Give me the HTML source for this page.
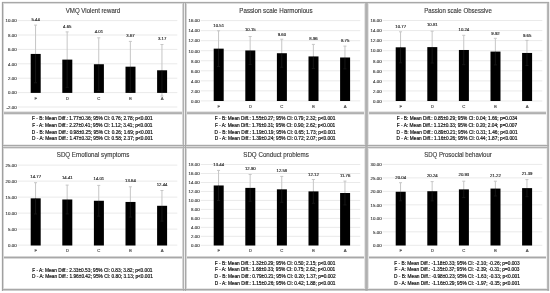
<!DOCTYPE html>
<html><head><meta charset="utf-8"><style>
html,body{margin:0;padding:0;background:#fff;}
body{width:550px;height:293px;position:relative;overflow:hidden;font-family:"Liberation Sans", sans-serif;filter:grayscale(1);}
body>div{position:absolute;box-sizing:content-box;}
</style></head><body>
<svg width="550" height="293" viewBox="0 0 550 293" style="position:absolute;left:0;top:0"><rect x="17.70" y="20.10" width="159.60" height="1" fill="#eaeaea"/><rect x="17.70" y="34.50" width="159.60" height="1" fill="#eaeaea"/><rect x="17.70" y="48.90" width="159.60" height="1" fill="#eaeaea"/><rect x="17.70" y="63.30" width="159.60" height="1" fill="#eaeaea"/><rect x="17.70" y="77.70" width="159.60" height="1" fill="#eaeaea"/><rect x="17.70" y="92.10" width="159.60" height="1" fill="#eaeaea"/><rect x="17.70" y="106.50" width="159.60" height="1" fill="#eaeaea"/><rect x="200.70" y="20.10" width="159.60" height="1" fill="#eaeaea"/><rect x="200.70" y="30.14" width="159.60" height="1" fill="#eaeaea"/><rect x="200.70" y="40.18" width="159.60" height="1" fill="#eaeaea"/><rect x="200.70" y="50.21" width="159.60" height="1" fill="#eaeaea"/><rect x="200.70" y="60.25" width="159.60" height="1" fill="#eaeaea"/><rect x="200.70" y="70.29" width="159.60" height="1" fill="#eaeaea"/><rect x="200.70" y="80.33" width="159.60" height="1" fill="#eaeaea"/><rect x="200.70" y="90.36" width="159.60" height="1" fill="#eaeaea"/><rect x="200.70" y="100.40" width="159.60" height="1" fill="#eaeaea"/><rect x="382.70" y="20.00" width="159.60" height="1" fill="#eaeaea"/><rect x="382.70" y="30.06" width="159.60" height="1" fill="#eaeaea"/><rect x="382.70" y="40.12" width="159.60" height="1" fill="#eaeaea"/><rect x="382.70" y="50.19" width="159.60" height="1" fill="#eaeaea"/><rect x="382.70" y="60.25" width="159.60" height="1" fill="#eaeaea"/><rect x="382.70" y="70.31" width="159.60" height="1" fill="#eaeaea"/><rect x="382.70" y="80.38" width="159.60" height="1" fill="#eaeaea"/><rect x="382.70" y="90.44" width="159.60" height="1" fill="#eaeaea"/><rect x="382.70" y="100.50" width="159.60" height="1" fill="#eaeaea"/><rect x="17.70" y="164.60" width="159.60" height="1" fill="#eaeaea"/><rect x="17.70" y="180.60" width="159.60" height="1" fill="#eaeaea"/><rect x="17.70" y="196.60" width="159.60" height="1" fill="#eaeaea"/><rect x="17.70" y="212.60" width="159.60" height="1" fill="#eaeaea"/><rect x="17.70" y="228.60" width="159.60" height="1" fill="#eaeaea"/><rect x="17.70" y="244.60" width="159.60" height="1" fill="#eaeaea"/><rect x="200.70" y="164.00" width="159.60" height="1" fill="#eaeaea"/><rect x="200.70" y="172.98" width="159.60" height="1" fill="#eaeaea"/><rect x="200.70" y="181.96" width="159.60" height="1" fill="#eaeaea"/><rect x="200.70" y="190.93" width="159.60" height="1" fill="#eaeaea"/><rect x="200.70" y="199.91" width="159.60" height="1" fill="#eaeaea"/><rect x="200.70" y="208.89" width="159.60" height="1" fill="#eaeaea"/><rect x="200.70" y="217.87" width="159.60" height="1" fill="#eaeaea"/><rect x="200.70" y="226.84" width="159.60" height="1" fill="#eaeaea"/><rect x="200.70" y="235.82" width="159.60" height="1" fill="#eaeaea"/><rect x="200.70" y="244.80" width="159.60" height="1" fill="#eaeaea"/><rect x="382.70" y="163.90" width="159.60" height="1" fill="#eaeaea"/><rect x="382.70" y="177.38" width="159.60" height="1" fill="#eaeaea"/><rect x="382.70" y="190.87" width="159.60" height="1" fill="#eaeaea"/><rect x="382.70" y="204.35" width="159.60" height="1" fill="#eaeaea"/><rect x="382.70" y="217.83" width="159.60" height="1" fill="#eaeaea"/><rect x="382.70" y="231.32" width="159.60" height="1" fill="#eaeaea"/><rect x="382.70" y="244.80" width="159.60" height="1" fill="#eaeaea"/><rect x="30.70" y="53.93" width="10.0" height="38.97" fill="#000"/><rect x="62.30" y="59.62" width="10.0" height="33.28" fill="#000"/><rect x="93.90" y="64.23" width="10.0" height="28.67" fill="#000"/><rect x="125.50" y="66.68" width="10.0" height="26.22" fill="#000"/><rect x="157.10" y="70.28" width="10.0" height="22.62" fill="#000"/><rect x="213.70" y="48.65" width="10.0" height="52.35" fill="#000"/><rect x="245.30" y="50.46" width="10.0" height="50.54" fill="#000"/><rect x="276.90" y="53.22" width="10.0" height="47.78" fill="#000"/><rect x="308.50" y="56.43" width="10.0" height="44.57" fill="#000"/><rect x="340.10" y="57.49" width="10.0" height="43.51" fill="#000"/><rect x="395.70" y="47.31" width="10.0" height="53.69" fill="#000"/><rect x="427.30" y="47.11" width="10.0" height="53.89" fill="#000"/><rect x="458.90" y="49.98" width="10.0" height="51.02" fill="#000"/><rect x="490.50" y="51.59" width="10.0" height="49.41" fill="#000"/><rect x="522.10" y="52.95" width="10.0" height="48.05" fill="#000"/><rect x="30.70" y="198.34" width="10.0" height="47.16" fill="#000"/><rect x="62.30" y="199.49" width="10.0" height="46.01" fill="#000"/><rect x="93.90" y="200.77" width="10.0" height="44.73" fill="#000"/><rect x="125.50" y="201.95" width="10.0" height="43.55" fill="#000"/><rect x="157.10" y="205.79" width="10.0" height="39.71" fill="#000"/><rect x="213.70" y="185.47" width="10.0" height="60.03" fill="#000"/><rect x="245.30" y="187.89" width="10.0" height="57.61" fill="#000"/><rect x="276.90" y="189.33" width="10.0" height="56.17" fill="#000"/><rect x="308.50" y="191.39" width="10.0" height="54.11" fill="#000"/><rect x="340.10" y="193.01" width="10.0" height="52.49" fill="#000"/><rect x="395.70" y="191.76" width="10.0" height="53.74" fill="#000"/><rect x="427.30" y="191.22" width="10.0" height="54.28" fill="#000"/><rect x="458.90" y="189.36" width="10.0" height="56.14" fill="#000"/><rect x="490.50" y="188.58" width="10.0" height="56.92" fill="#000"/><rect x="522.10" y="188.12" width="10.0" height="57.38" fill="#000"/><rect x="35.05" y="25.10" width="1" height="28.83" fill="#c6c6c6"/><rect x="34.05" y="24.60" width="3" height="1" fill="#c6c6c6"/><rect x="35.05" y="53.93" width="1" height="28.83" fill="#151515"/><rect x="34.05" y="82.26" width="3" height="1" fill="#151515"/><rect x="66.65" y="31.90" width="1" height="27.72" fill="#c6c6c6"/><rect x="65.65" y="31.40" width="3" height="1" fill="#c6c6c6"/><rect x="66.65" y="59.62" width="1" height="27.72" fill="#151515"/><rect x="65.65" y="86.84" width="3" height="1" fill="#151515"/><rect x="98.25" y="37.80" width="1" height="26.43" fill="#c6c6c6"/><rect x="97.25" y="37.30" width="3" height="1" fill="#c6c6c6"/><rect x="98.25" y="64.23" width="1" height="26.43" fill="#151515"/><rect x="97.25" y="90.16" width="3" height="1" fill="#151515"/><rect x="129.85" y="41.40" width="1" height="25.28" fill="#c6c6c6"/><rect x="128.85" y="40.90" width="3" height="1" fill="#c6c6c6"/><rect x="129.85" y="66.68" width="1" height="25.28" fill="#151515"/><rect x="128.85" y="91.45" width="3" height="1" fill="#151515"/><rect x="161.45" y="44.50" width="1" height="25.78" fill="#c6c6c6"/><rect x="160.45" y="44.00" width="3" height="1" fill="#c6c6c6"/><rect x="161.45" y="70.28" width="1" height="22.62" fill="#151515"/><rect x="161.45" y="92.90" width="1" height="3.15" fill="#c6c6c6"/><rect x="160.45" y="95.55" width="3" height="1" fill="#c6c6c6"/><rect x="218.05" y="30.80" width="1" height="17.85" fill="#c6c6c6"/><rect x="217.05" y="30.30" width="3" height="1" fill="#c6c6c6"/><rect x="218.05" y="48.65" width="1" height="17.85" fill="#151515"/><rect x="217.05" y="66.01" width="3" height="1" fill="#151515"/><rect x="249.65" y="36.50" width="1" height="13.96" fill="#c6c6c6"/><rect x="248.65" y="36.00" width="3" height="1" fill="#c6c6c6"/><rect x="249.65" y="50.46" width="1" height="13.96" fill="#151515"/><rect x="248.65" y="63.92" width="3" height="1" fill="#151515"/><rect x="281.25" y="39.20" width="1" height="14.02" fill="#c6c6c6"/><rect x="280.25" y="38.70" width="3" height="1" fill="#c6c6c6"/><rect x="281.25" y="53.22" width="1" height="14.02" fill="#151515"/><rect x="280.25" y="66.74" width="3" height="1" fill="#151515"/><rect x="312.85" y="44.40" width="1" height="12.03" fill="#c6c6c6"/><rect x="311.85" y="43.90" width="3" height="1" fill="#c6c6c6"/><rect x="312.85" y="56.43" width="1" height="12.03" fill="#151515"/><rect x="311.85" y="67.96" width="3" height="1" fill="#151515"/><rect x="344.45" y="46.10" width="1" height="11.39" fill="#c6c6c6"/><rect x="343.45" y="45.60" width="3" height="1" fill="#c6c6c6"/><rect x="344.45" y="57.49" width="1" height="11.39" fill="#151515"/><rect x="343.45" y="68.37" width="3" height="1" fill="#151515"/><rect x="400.05" y="31.80" width="1" height="15.51" fill="#c6c6c6"/><rect x="399.05" y="31.30" width="3" height="1" fill="#c6c6c6"/><rect x="400.05" y="47.31" width="1" height="15.51" fill="#151515"/><rect x="399.05" y="62.33" width="3" height="1" fill="#151515"/><rect x="431.65" y="31.20" width="1" height="15.91" fill="#c6c6c6"/><rect x="430.65" y="30.70" width="3" height="1" fill="#c6c6c6"/><rect x="431.65" y="47.11" width="1" height="15.91" fill="#151515"/><rect x="430.65" y="62.52" width="3" height="1" fill="#151515"/><rect x="463.25" y="35.30" width="1" height="14.68" fill="#c6c6c6"/><rect x="462.25" y="34.80" width="3" height="1" fill="#c6c6c6"/><rect x="463.25" y="49.98" width="1" height="14.68" fill="#151515"/><rect x="462.25" y="64.16" width="3" height="1" fill="#151515"/><rect x="494.85" y="38.30" width="1" height="13.29" fill="#c6c6c6"/><rect x="493.85" y="37.80" width="3" height="1" fill="#c6c6c6"/><rect x="494.85" y="51.59" width="1" height="13.29" fill="#151515"/><rect x="493.85" y="64.38" width="3" height="1" fill="#151515"/><rect x="526.45" y="40.40" width="1" height="12.55" fill="#c6c6c6"/><rect x="525.45" y="39.90" width="3" height="1" fill="#c6c6c6"/><rect x="526.45" y="52.95" width="1" height="12.55" fill="#151515"/><rect x="525.45" y="65.00" width="3" height="1" fill="#151515"/><rect x="35.05" y="182.70" width="1" height="15.64" fill="#c6c6c6"/><rect x="34.05" y="182.20" width="3" height="1" fill="#c6c6c6"/><rect x="35.05" y="198.34" width="1" height="15.64" fill="#151515"/><rect x="34.05" y="213.47" width="3" height="1" fill="#151515"/><rect x="66.65" y="185.10" width="1" height="14.39" fill="#c6c6c6"/><rect x="65.65" y="184.60" width="3" height="1" fill="#c6c6c6"/><rect x="66.65" y="199.49" width="1" height="14.39" fill="#151515"/><rect x="65.65" y="213.38" width="3" height="1" fill="#151515"/><rect x="98.25" y="185.40" width="1" height="15.37" fill="#c6c6c6"/><rect x="97.25" y="184.90" width="3" height="1" fill="#c6c6c6"/><rect x="98.25" y="200.77" width="1" height="15.37" fill="#151515"/><rect x="97.25" y="215.64" width="3" height="1" fill="#151515"/><rect x="129.85" y="186.80" width="1" height="15.15" fill="#c6c6c6"/><rect x="128.85" y="186.30" width="3" height="1" fill="#c6c6c6"/><rect x="129.85" y="201.95" width="1" height="15.15" fill="#151515"/><rect x="128.85" y="216.60" width="3" height="1" fill="#151515"/><rect x="161.45" y="190.50" width="1" height="15.29" fill="#c6c6c6"/><rect x="160.45" y="190.00" width="3" height="1" fill="#c6c6c6"/><rect x="161.45" y="205.79" width="1" height="15.29" fill="#151515"/><rect x="160.45" y="220.58" width="3" height="1" fill="#151515"/><rect x="218.05" y="170.40" width="1" height="15.07" fill="#c6c6c6"/><rect x="217.05" y="169.90" width="3" height="1" fill="#c6c6c6"/><rect x="218.05" y="185.47" width="1" height="15.07" fill="#151515"/><rect x="217.05" y="200.04" width="3" height="1" fill="#151515"/><rect x="249.65" y="174.50" width="1" height="13.39" fill="#c6c6c6"/><rect x="248.65" y="174.00" width="3" height="1" fill="#c6c6c6"/><rect x="249.65" y="187.89" width="1" height="13.39" fill="#151515"/><rect x="248.65" y="200.79" width="3" height="1" fill="#151515"/><rect x="281.25" y="176.40" width="1" height="12.93" fill="#c6c6c6"/><rect x="280.25" y="175.90" width="3" height="1" fill="#c6c6c6"/><rect x="281.25" y="189.33" width="1" height="12.93" fill="#151515"/><rect x="280.25" y="201.76" width="3" height="1" fill="#151515"/><rect x="312.85" y="179.50" width="1" height="11.89" fill="#c6c6c6"/><rect x="311.85" y="179.00" width="3" height="1" fill="#c6c6c6"/><rect x="312.85" y="191.39" width="1" height="11.89" fill="#151515"/><rect x="311.85" y="202.79" width="3" height="1" fill="#151515"/><rect x="344.45" y="181.10" width="1" height="11.91" fill="#c6c6c6"/><rect x="343.45" y="180.60" width="3" height="1" fill="#c6c6c6"/><rect x="344.45" y="193.01" width="1" height="11.91" fill="#151515"/><rect x="343.45" y="204.42" width="3" height="1" fill="#151515"/><rect x="400.05" y="182.70" width="1" height="9.06" fill="#c6c6c6"/><rect x="399.05" y="182.20" width="3" height="1" fill="#c6c6c6"/><rect x="400.05" y="191.76" width="1" height="9.06" fill="#151515"/><rect x="399.05" y="200.32" width="3" height="1" fill="#151515"/><rect x="431.65" y="181.60" width="1" height="9.62" fill="#c6c6c6"/><rect x="430.65" y="181.10" width="3" height="1" fill="#c6c6c6"/><rect x="431.65" y="191.22" width="1" height="9.62" fill="#151515"/><rect x="430.65" y="200.34" width="3" height="1" fill="#151515"/><rect x="463.25" y="181.20" width="1" height="8.16" fill="#c6c6c6"/><rect x="462.25" y="180.70" width="3" height="1" fill="#c6c6c6"/><rect x="463.25" y="189.36" width="1" height="8.16" fill="#151515"/><rect x="462.25" y="197.02" width="3" height="1" fill="#151515"/><rect x="494.85" y="181.20" width="1" height="7.38" fill="#c6c6c6"/><rect x="493.85" y="180.70" width="3" height="1" fill="#c6c6c6"/><rect x="494.85" y="188.58" width="1" height="7.38" fill="#151515"/><rect x="493.85" y="195.45" width="3" height="1" fill="#151515"/><rect x="526.45" y="179.60" width="1" height="8.52" fill="#c6c6c6"/><rect x="525.45" y="179.10" width="3" height="1" fill="#c6c6c6"/><rect x="526.45" y="188.12" width="1" height="8.52" fill="#151515"/><rect x="525.45" y="196.14" width="3" height="1" fill="#151515"/></svg>
<div style="left:2px;top:111px;width:182px;height:1px;background:#e6e6e6"></div>
<div style="left:2px;top:112px;width:182px;height:1px;background:#b8b8b8"></div>
<div style="left:2px;top:113px;width:182px;height:1px;background:#b0b0b0"></div>
<div style="left:2px;top:114px;width:182px;height:1px;background:#e6e6e6"></div>
<div style="left:33.0px;top:5.5px;width:120px;height:10px;line-height:10px;text-align:center;font-size:6.4px;color:#363636;-webkit-text-stroke:0.12px #363636;transform:scaleX(0.9554)">VMQ Violent reward</div>
<div style="left:2px;top:17.400000000000002px;width:14.6px;height:8px;line-height:8px;text-align:right;font-size:4.4px;color:#404040;-webkit-text-stroke:0.15px #404040">10.00</div>
<div style="left:2px;top:31.8px;width:14.6px;height:8px;line-height:8px;text-align:right;font-size:4.4px;color:#404040;-webkit-text-stroke:0.15px #404040">8.00</div>
<div style="left:2px;top:46.2px;width:14.6px;height:8px;line-height:8px;text-align:right;font-size:4.4px;color:#404040;-webkit-text-stroke:0.15px #404040">6.00</div>
<div style="left:2px;top:60.6px;width:14.6px;height:8px;line-height:8px;text-align:right;font-size:4.4px;color:#404040;-webkit-text-stroke:0.15px #404040">4.00</div>
<div style="left:2px;top:75.0px;width:14.6px;height:8px;line-height:8px;text-align:right;font-size:4.4px;color:#404040;-webkit-text-stroke:0.15px #404040">2.00</div>
<div style="left:2px;top:89.39999999999999px;width:14.6px;height:8px;line-height:8px;text-align:right;font-size:4.4px;color:#404040;-webkit-text-stroke:0.15px #404040">0.00</div>
<div style="left:2px;top:103.8px;width:14.6px;height:8px;line-height:8px;text-align:right;font-size:4.4px;color:#404040;-webkit-text-stroke:0.15px #404040">-2.00</div>
<div style="left:20.700000000000003px;top:16.0px;width:30px;height:8px;line-height:8px;text-align:center;font-size:4.3px;color:#262626;-webkit-text-stroke:0.15px #262626">5.44</div>
<div style="left:25.700000000000003px;top:94.7px;width:20px;height:8px;line-height:8px;text-align:center;font-size:4.3px;color:#404040;-webkit-text-stroke:0.12px #404040">F</div>
<div style="left:52.3px;top:22.6px;width:30px;height:8px;line-height:8px;text-align:center;font-size:4.3px;color:#262626;-webkit-text-stroke:0.15px #262626">4.65</div>
<div style="left:57.3px;top:94.7px;width:20px;height:8px;line-height:8px;text-align:center;font-size:4.3px;color:#404040;-webkit-text-stroke:0.12px #404040">D</div>
<div style="left:83.9px;top:27.7px;width:30px;height:8px;line-height:8px;text-align:center;font-size:4.3px;color:#262626;-webkit-text-stroke:0.15px #262626">4.01</div>
<div style="left:88.9px;top:94.7px;width:20px;height:8px;line-height:8px;text-align:center;font-size:4.3px;color:#404040;-webkit-text-stroke:0.12px #404040">C</div>
<div style="left:115.5px;top:32.1px;width:30px;height:8px;line-height:8px;text-align:center;font-size:4.3px;color:#262626;-webkit-text-stroke:0.15px #262626">3.67</div>
<div style="left:120.5px;top:94.7px;width:20px;height:8px;line-height:8px;text-align:center;font-size:4.3px;color:#404040;-webkit-text-stroke:0.12px #404040">B</div>
<div style="left:147.1px;top:35.4px;width:30px;height:8px;line-height:8px;text-align:center;font-size:4.3px;color:#262626;-webkit-text-stroke:0.15px #262626">3.17</div>
<div style="left:152.1px;top:94.7px;width:20px;height:8px;line-height:8px;text-align:center;font-size:4.3px;color:#404040;-webkit-text-stroke:0.12px #404040">A</div>
<div style="left:1.4px;top:116.3px;width:182px;height:6.6px;line-height:6.6px;text-align:center;font-size:4.78px;color:#111111;font-weight:normal;-webkit-text-stroke:0.18px #111111;white-space:nowrap">F - B: Mean Diff.: 1.77±0.36; 95% CI: 0.76; 2.78; p<0.001</div>
<div style="left:1.4px;top:122.89999999999999px;width:182px;height:6.6px;line-height:6.6px;text-align:center;font-size:4.78px;color:#111111;font-weight:normal;-webkit-text-stroke:0.18px #111111;white-space:nowrap">F - A: Mean Diff.: 2.27±0.41; 95% CI: 1.12; 3.41; p<0.001</div>
<div style="left:1.4px;top:129.5px;width:182px;height:6.6px;line-height:6.6px;text-align:center;font-size:4.78px;color:#111111;font-weight:normal;-webkit-text-stroke:0.18px #111111;white-space:nowrap">D - B: Mean Diff.: 0.98±0.25; 95% CI: 0.26; 1.69; p<0.001</div>
<div style="left:1.4px;top:136.1px;width:182px;height:6.6px;line-height:6.6px;text-align:center;font-size:4.78px;color:#111111;font-weight:normal;-webkit-text-stroke:0.18px #111111;white-space:nowrap">D - A: Mean Diff.: 1.47±0.32; 95% CI: 0.58; 2.37; p<0.001</div>
<div style="left:185px;top:111px;width:182px;height:1px;background:#e6e6e6"></div>
<div style="left:185px;top:112px;width:182px;height:1px;background:#b8b8b8"></div>
<div style="left:185px;top:113px;width:182px;height:1px;background:#b0b0b0"></div>
<div style="left:185px;top:114px;width:182px;height:1px;background:#e6e6e6"></div>
<div style="left:216.0px;top:5.5px;width:120px;height:10px;line-height:10px;text-align:center;font-size:6.4px;color:#363636;-webkit-text-stroke:0.12px #363636;transform:scaleX(0.9687)">Passion scale Harmonious</div>
<div style="left:185px;top:17.400000000000002px;width:14.6px;height:8px;line-height:8px;text-align:right;font-size:4.4px;color:#404040;-webkit-text-stroke:0.15px #404040">16.00</div>
<div style="left:185px;top:27.437500000000004px;width:14.6px;height:8px;line-height:8px;text-align:right;font-size:4.4px;color:#404040;-webkit-text-stroke:0.15px #404040">14.00</div>
<div style="left:185px;top:37.475px;width:14.6px;height:8px;line-height:8px;text-align:right;font-size:4.4px;color:#404040;-webkit-text-stroke:0.15px #404040">12.00</div>
<div style="left:185px;top:47.5125px;width:14.6px;height:8px;line-height:8px;text-align:right;font-size:4.4px;color:#404040;-webkit-text-stroke:0.15px #404040">10.00</div>
<div style="left:185px;top:57.550000000000004px;width:14.6px;height:8px;line-height:8px;text-align:right;font-size:4.4px;color:#404040;-webkit-text-stroke:0.15px #404040">8.00</div>
<div style="left:185px;top:67.5875px;width:14.6px;height:8px;line-height:8px;text-align:right;font-size:4.4px;color:#404040;-webkit-text-stroke:0.15px #404040">6.00</div>
<div style="left:185px;top:77.62500000000001px;width:14.6px;height:8px;line-height:8px;text-align:right;font-size:4.4px;color:#404040;-webkit-text-stroke:0.15px #404040">4.00</div>
<div style="left:185px;top:87.66250000000001px;width:14.6px;height:8px;line-height:8px;text-align:right;font-size:4.4px;color:#404040;-webkit-text-stroke:0.15px #404040">2.00</div>
<div style="left:185px;top:97.7px;width:14.6px;height:8px;line-height:8px;text-align:right;font-size:4.4px;color:#404040;-webkit-text-stroke:0.15px #404040">0.00</div>
<div style="left:203.7px;top:21.8px;width:30px;height:8px;line-height:8px;text-align:center;font-size:4.3px;color:#262626;-webkit-text-stroke:0.15px #262626">10.51</div>
<div style="left:208.7px;top:103.3px;width:20px;height:8px;line-height:8px;text-align:center;font-size:4.3px;color:#404040;-webkit-text-stroke:0.12px #404040">F</div>
<div style="left:235.3px;top:26.3px;width:30px;height:8px;line-height:8px;text-align:center;font-size:4.3px;color:#262626;-webkit-text-stroke:0.15px #262626">10.15</div>
<div style="left:240.3px;top:103.3px;width:20px;height:8px;line-height:8px;text-align:center;font-size:4.3px;color:#404040;-webkit-text-stroke:0.12px #404040">D</div>
<div style="left:266.9px;top:30.5px;width:30px;height:8px;line-height:8px;text-align:center;font-size:4.3px;color:#262626;-webkit-text-stroke:0.15px #262626">9.60</div>
<div style="left:271.9px;top:103.3px;width:20px;height:8px;line-height:8px;text-align:center;font-size:4.3px;color:#404040;-webkit-text-stroke:0.12px #404040">C</div>
<div style="left:298.5px;top:35.3px;width:30px;height:8px;line-height:8px;text-align:center;font-size:4.3px;color:#262626;-webkit-text-stroke:0.15px #262626">8.96</div>
<div style="left:303.5px;top:103.3px;width:20px;height:8px;line-height:8px;text-align:center;font-size:4.3px;color:#404040;-webkit-text-stroke:0.12px #404040">B</div>
<div style="left:330.1px;top:37.0px;width:30px;height:8px;line-height:8px;text-align:center;font-size:4.3px;color:#262626;-webkit-text-stroke:0.15px #262626">8.75</div>
<div style="left:335.1px;top:103.3px;width:20px;height:8px;line-height:8px;text-align:center;font-size:4.3px;color:#404040;-webkit-text-stroke:0.12px #404040">A</div>
<div style="left:184.1px;top:116.3px;width:182px;height:6.6px;line-height:6.6px;text-align:center;font-size:4.78px;color:#111111;font-weight:normal;-webkit-text-stroke:0.18px #111111;white-space:nowrap">F - B: Mean Diff.: 1.55±0.27; 95% CI: 0.79; 2.32; p<0.001</div>
<div style="left:184.1px;top:122.89999999999999px;width:182px;height:6.6px;line-height:6.6px;text-align:center;font-size:4.78px;color:#111111;font-weight:normal;-webkit-text-stroke:0.18px #111111;white-space:nowrap">F - A: Mean Diff.: 1.76±0.31; 95% CI: 0.90; 2.62; p<0.001</div>
<div style="left:184.1px;top:129.5px;width:182px;height:6.6px;line-height:6.6px;text-align:center;font-size:4.78px;color:#111111;font-weight:normal;-webkit-text-stroke:0.18px #111111;white-space:nowrap">D - B: Mean Diff.: 1.19±0.19; 95% CI: 0.65; 1.73; p<0.001</div>
<div style="left:184.1px;top:136.1px;width:182px;height:6.6px;line-height:6.6px;text-align:center;font-size:4.78px;color:#111111;font-weight:normal;-webkit-text-stroke:0.18px #111111;white-space:nowrap">D - A: Mean Diff.: 1.39±0.24; 95% CI: 0.72; 2.07; p<0.001</div>
<div style="left:367px;top:111px;width:181px;height:1px;background:#e6e6e6"></div>
<div style="left:367px;top:112px;width:181px;height:1px;background:#b8b8b8"></div>
<div style="left:367px;top:113px;width:181px;height:1px;background:#b0b0b0"></div>
<div style="left:367px;top:114px;width:181px;height:1px;background:#e6e6e6"></div>
<div style="left:397.5px;top:5.5px;width:120px;height:10px;line-height:10px;text-align:center;font-size:6.4px;color:#363636;-webkit-text-stroke:0.12px #363636;transform:scaleX(0.9516)">Passion scale Obsessive</div>
<div style="left:367px;top:17.3px;width:14.6px;height:8px;line-height:8px;text-align:right;font-size:4.4px;color:#404040;-webkit-text-stroke:0.15px #404040">16.00</div>
<div style="left:367px;top:27.3625px;width:14.6px;height:8px;line-height:8px;text-align:right;font-size:4.4px;color:#404040;-webkit-text-stroke:0.15px #404040">14.00</div>
<div style="left:367px;top:37.425px;width:14.6px;height:8px;line-height:8px;text-align:right;font-size:4.4px;color:#404040;-webkit-text-stroke:0.15px #404040">12.00</div>
<div style="left:367px;top:47.4875px;width:14.6px;height:8px;line-height:8px;text-align:right;font-size:4.4px;color:#404040;-webkit-text-stroke:0.15px #404040">10.00</div>
<div style="left:367px;top:57.55px;width:14.6px;height:8px;line-height:8px;text-align:right;font-size:4.4px;color:#404040;-webkit-text-stroke:0.15px #404040">8.00</div>
<div style="left:367px;top:67.6125px;width:14.6px;height:8px;line-height:8px;text-align:right;font-size:4.4px;color:#404040;-webkit-text-stroke:0.15px #404040">6.00</div>
<div style="left:367px;top:77.675px;width:14.6px;height:8px;line-height:8px;text-align:right;font-size:4.4px;color:#404040;-webkit-text-stroke:0.15px #404040">4.00</div>
<div style="left:367px;top:87.7375px;width:14.6px;height:8px;line-height:8px;text-align:right;font-size:4.4px;color:#404040;-webkit-text-stroke:0.15px #404040">2.00</div>
<div style="left:367px;top:97.8px;width:14.6px;height:8px;line-height:8px;text-align:right;font-size:4.4px;color:#404040;-webkit-text-stroke:0.15px #404040">0.00</div>
<div style="left:385.7px;top:23.2px;width:30px;height:8px;line-height:8px;text-align:center;font-size:4.3px;color:#262626;-webkit-text-stroke:0.15px #262626">10.77</div>
<div style="left:390.7px;top:103.3px;width:20px;height:8px;line-height:8px;text-align:center;font-size:4.3px;color:#404040;-webkit-text-stroke:0.12px #404040">F</div>
<div style="left:417.3px;top:21.3px;width:30px;height:8px;line-height:8px;text-align:center;font-size:4.3px;color:#262626;-webkit-text-stroke:0.15px #262626">10.81</div>
<div style="left:422.3px;top:103.3px;width:20px;height:8px;line-height:8px;text-align:center;font-size:4.3px;color:#404040;-webkit-text-stroke:0.12px #404040">D</div>
<div style="left:448.9px;top:25.8px;width:30px;height:8px;line-height:8px;text-align:center;font-size:4.3px;color:#262626;-webkit-text-stroke:0.15px #262626">10.24</div>
<div style="left:453.9px;top:103.3px;width:20px;height:8px;line-height:8px;text-align:center;font-size:4.3px;color:#404040;-webkit-text-stroke:0.12px #404040">C</div>
<div style="left:480.5px;top:29.5px;width:30px;height:8px;line-height:8px;text-align:center;font-size:4.3px;color:#262626;-webkit-text-stroke:0.15px #262626">9.92</div>
<div style="left:485.5px;top:103.3px;width:20px;height:8px;line-height:8px;text-align:center;font-size:4.3px;color:#404040;-webkit-text-stroke:0.12px #404040">B</div>
<div style="left:512.1px;top:31.6px;width:30px;height:8px;line-height:8px;text-align:center;font-size:4.3px;color:#262626;-webkit-text-stroke:0.15px #262626">9.65</div>
<div style="left:517.1px;top:103.3px;width:20px;height:8px;line-height:8px;text-align:center;font-size:4.3px;color:#404040;-webkit-text-stroke:0.12px #404040">A</div>
<div style="left:366.5px;top:116.3px;width:181px;height:6.6px;line-height:6.6px;text-align:center;font-size:4.78px;color:#111111;font-weight:normal;-webkit-text-stroke:0.18px #111111;white-space:nowrap">F - B: Mean Diff.: 0.85±0.29; 95% CI: 0.04; 1.66; p=0.034</div>
<div style="left:366.5px;top:122.89999999999999px;width:181px;height:6.6px;line-height:6.6px;text-align:center;font-size:4.78px;color:#111111;font-weight:normal;-webkit-text-stroke:0.18px #111111;white-space:nowrap">F - A: Mean Diff.: 1.12±0.33; 95% CI: 0.20; 2.04; p=0.007</div>
<div style="left:366.5px;top:129.5px;width:181px;height:6.6px;line-height:6.6px;text-align:center;font-size:4.78px;color:#111111;font-weight:normal;-webkit-text-stroke:0.18px #111111;white-space:nowrap">D - B: Mean Diff.: 0.89±0.21; 95% CI: 0.31; 1.46; p<0.001</div>
<div style="left:366.5px;top:136.1px;width:181px;height:6.6px;line-height:6.6px;text-align:center;font-size:4.78px;color:#111111;font-weight:normal;-webkit-text-stroke:0.18px #111111;white-space:nowrap">D - A: Mean Diff.: 1.16±0.26; 95% CI: 0.44; 1.87; p<0.001</div>
<div style="left:2px;top:256px;width:182px;height:1px;background:#d4d4d4"></div>
<div style="left:2px;top:257px;width:182px;height:1px;background:#a8a8a8"></div>
<div style="left:2px;top:258px;width:182px;height:1px;background:#d8d8d8"></div>
<div style="left:33.0px;top:149.9px;width:120px;height:10px;line-height:10px;text-align:center;font-size:6.4px;color:#363636;-webkit-text-stroke:0.12px #363636;transform:scaleX(0.9674)">SDQ Emotional symptoms</div>
<div style="left:2px;top:161.9px;width:14.6px;height:8px;line-height:8px;text-align:right;font-size:4.4px;color:#404040;-webkit-text-stroke:0.15px #404040">25.00</div>
<div style="left:2px;top:177.9px;width:14.6px;height:8px;line-height:8px;text-align:right;font-size:4.4px;color:#404040;-webkit-text-stroke:0.15px #404040">20.00</div>
<div style="left:2px;top:193.9px;width:14.6px;height:8px;line-height:8px;text-align:right;font-size:4.4px;color:#404040;-webkit-text-stroke:0.15px #404040">15.00</div>
<div style="left:2px;top:209.9px;width:14.6px;height:8px;line-height:8px;text-align:right;font-size:4.4px;color:#404040;-webkit-text-stroke:0.15px #404040">10.00</div>
<div style="left:2px;top:225.9px;width:14.6px;height:8px;line-height:8px;text-align:right;font-size:4.4px;color:#404040;-webkit-text-stroke:0.15px #404040">5.00</div>
<div style="left:2px;top:241.9px;width:14.6px;height:8px;line-height:8px;text-align:right;font-size:4.4px;color:#404040;-webkit-text-stroke:0.15px #404040">0.00</div>
<div style="left:20.700000000000003px;top:172.8px;width:30px;height:8px;line-height:8px;text-align:center;font-size:4.3px;color:#262626;-webkit-text-stroke:0.15px #262626">14.77</div>
<div style="left:25.700000000000003px;top:247.1px;width:20px;height:8px;line-height:8px;text-align:center;font-size:4.3px;color:#404040;-webkit-text-stroke:0.12px #404040">F</div>
<div style="left:52.3px;top:174.3px;width:30px;height:8px;line-height:8px;text-align:center;font-size:4.3px;color:#262626;-webkit-text-stroke:0.15px #262626">14.41</div>
<div style="left:57.3px;top:247.1px;width:20px;height:8px;line-height:8px;text-align:center;font-size:4.3px;color:#404040;-webkit-text-stroke:0.12px #404040">D</div>
<div style="left:83.9px;top:174.9px;width:30px;height:8px;line-height:8px;text-align:center;font-size:4.3px;color:#262626;-webkit-text-stroke:0.15px #262626">14.01</div>
<div style="left:88.9px;top:247.1px;width:20px;height:8px;line-height:8px;text-align:center;font-size:4.3px;color:#404040;-webkit-text-stroke:0.12px #404040">C</div>
<div style="left:115.5px;top:177.4px;width:30px;height:8px;line-height:8px;text-align:center;font-size:4.3px;color:#262626;-webkit-text-stroke:0.15px #262626">13.64</div>
<div style="left:120.5px;top:247.1px;width:20px;height:8px;line-height:8px;text-align:center;font-size:4.3px;color:#404040;-webkit-text-stroke:0.12px #404040">B</div>
<div style="left:147.1px;top:181.1px;width:30px;height:8px;line-height:8px;text-align:center;font-size:4.3px;color:#262626;-webkit-text-stroke:0.15px #262626">12.44</div>
<div style="left:152.1px;top:247.1px;width:20px;height:8px;line-height:8px;text-align:center;font-size:4.3px;color:#404040;-webkit-text-stroke:0.12px #404040">A</div>
<div style="left:1.4px;top:267.69999999999993px;width:182px;height:6.6px;line-height:6.6px;text-align:center;font-size:4.78px;color:#111111;font-weight:normal;-webkit-text-stroke:0.18px #111111;white-space:nowrap">F - A: Mean Diff.: 2.33±0.53; 95% CI: 0.83; 3.82; p<0.001</div>
<div style="left:1.4px;top:274.29999999999995px;width:182px;height:6.6px;line-height:6.6px;text-align:center;font-size:4.78px;color:#111111;font-weight:normal;-webkit-text-stroke:0.18px #111111;white-space:nowrap">D - A: Mean Diff.: 1.96±0.42; 95% CI: 0.80; 3.13; p<0.001</div>
<div style="left:185px;top:256px;width:182px;height:1px;background:#d4d4d4"></div>
<div style="left:185px;top:257px;width:182px;height:1px;background:#a8a8a8"></div>
<div style="left:185px;top:258px;width:182px;height:1px;background:#d8d8d8"></div>
<div style="left:216.0px;top:149.9px;width:120px;height:10px;line-height:10px;text-align:center;font-size:6.4px;color:#363636;-webkit-text-stroke:0.12px #363636;transform:scaleX(0.9706)">SDQ Conduct problems</div>
<div style="left:185px;top:161.3px;width:14.6px;height:8px;line-height:8px;text-align:right;font-size:4.4px;color:#404040;-webkit-text-stroke:0.15px #404040">18.00</div>
<div style="left:185px;top:170.2777777777778px;width:14.6px;height:8px;line-height:8px;text-align:right;font-size:4.4px;color:#404040;-webkit-text-stroke:0.15px #404040">16.00</div>
<div style="left:185px;top:179.25555555555556px;width:14.6px;height:8px;line-height:8px;text-align:right;font-size:4.4px;color:#404040;-webkit-text-stroke:0.15px #404040">14.00</div>
<div style="left:185px;top:188.23333333333335px;width:14.6px;height:8px;line-height:8px;text-align:right;font-size:4.4px;color:#404040;-webkit-text-stroke:0.15px #404040">12.00</div>
<div style="left:185px;top:197.21111111111114px;width:14.6px;height:8px;line-height:8px;text-align:right;font-size:4.4px;color:#404040;-webkit-text-stroke:0.15px #404040">10.00</div>
<div style="left:185px;top:206.18888888888893px;width:14.6px;height:8px;line-height:8px;text-align:right;font-size:4.4px;color:#404040;-webkit-text-stroke:0.15px #404040">8.00</div>
<div style="left:185px;top:215.16666666666669px;width:14.6px;height:8px;line-height:8px;text-align:right;font-size:4.4px;color:#404040;-webkit-text-stroke:0.15px #404040">6.00</div>
<div style="left:185px;top:224.14444444444447px;width:14.6px;height:8px;line-height:8px;text-align:right;font-size:4.4px;color:#404040;-webkit-text-stroke:0.15px #404040">4.00</div>
<div style="left:185px;top:233.12222222222226px;width:14.6px;height:8px;line-height:8px;text-align:right;font-size:4.4px;color:#404040;-webkit-text-stroke:0.15px #404040">2.00</div>
<div style="left:185px;top:242.10000000000002px;width:14.6px;height:8px;line-height:8px;text-align:right;font-size:4.4px;color:#404040;-webkit-text-stroke:0.15px #404040">0.00</div>
<div style="left:203.7px;top:160.5px;width:30px;height:8px;line-height:8px;text-align:center;font-size:4.3px;color:#262626;-webkit-text-stroke:0.15px #262626">13.44</div>
<div style="left:208.7px;top:247.1px;width:20px;height:8px;line-height:8px;text-align:center;font-size:4.3px;color:#404040;-webkit-text-stroke:0.12px #404040">F</div>
<div style="left:235.3px;top:165.0px;width:30px;height:8px;line-height:8px;text-align:center;font-size:4.3px;color:#262626;-webkit-text-stroke:0.15px #262626">12.90</div>
<div style="left:240.3px;top:247.1px;width:20px;height:8px;line-height:8px;text-align:center;font-size:4.3px;color:#404040;-webkit-text-stroke:0.12px #404040">D</div>
<div style="left:266.9px;top:167.0px;width:30px;height:8px;line-height:8px;text-align:center;font-size:4.3px;color:#262626;-webkit-text-stroke:0.15px #262626">12.58</div>
<div style="left:271.9px;top:247.1px;width:20px;height:8px;line-height:8px;text-align:center;font-size:4.3px;color:#404040;-webkit-text-stroke:0.12px #404040">C</div>
<div style="left:298.5px;top:170.7px;width:30px;height:8px;line-height:8px;text-align:center;font-size:4.3px;color:#262626;-webkit-text-stroke:0.15px #262626">12.12</div>
<div style="left:303.5px;top:247.1px;width:20px;height:8px;line-height:8px;text-align:center;font-size:4.3px;color:#404040;-webkit-text-stroke:0.12px #404040">B</div>
<div style="left:330.1px;top:171.7px;width:30px;height:8px;line-height:8px;text-align:center;font-size:4.3px;color:#262626;-webkit-text-stroke:0.15px #262626">11.76</div>
<div style="left:335.1px;top:247.1px;width:20px;height:8px;line-height:8px;text-align:center;font-size:4.3px;color:#404040;-webkit-text-stroke:0.12px #404040">A</div>
<div style="left:184.1px;top:260.7px;width:182px;height:6.6px;line-height:6.6px;text-align:center;font-size:4.78px;color:#111111;font-weight:normal;-webkit-text-stroke:0.18px #111111;white-space:nowrap">F - B: Mean Diff.: 1.32±0.29; 95% CI: 0.50; 2.15; p<0.001</div>
<div style="left:184.1px;top:267.3px;width:182px;height:6.6px;line-height:6.6px;text-align:center;font-size:4.78px;color:#111111;font-weight:normal;-webkit-text-stroke:0.18px #111111;white-space:nowrap">F - A: Mean Diff.: 1.68±0.33; 95% CI: 0.75; 2.62; p<0.001</div>
<div style="left:184.1px;top:273.9px;width:182px;height:6.6px;line-height:6.6px;text-align:center;font-size:4.78px;color:#111111;font-weight:normal;-webkit-text-stroke:0.18px #111111;white-space:nowrap">D - B: Mean Diff.: 0.79±0.21; 95% CI: 0.20; 1.37; p=0.002</div>
<div style="left:184.1px;top:280.5px;width:182px;height:6.6px;line-height:6.6px;text-align:center;font-size:4.78px;color:#111111;font-weight:normal;-webkit-text-stroke:0.18px #111111;white-space:nowrap">D - A: Mean Diff.: 1.15±0.26; 95% CI: 0.42; 1.88; p<0.001</div>
<div style="left:367px;top:256px;width:181px;height:1px;background:#d4d4d4"></div>
<div style="left:367px;top:257px;width:181px;height:1px;background:#a8a8a8"></div>
<div style="left:367px;top:258px;width:181px;height:1px;background:#d8d8d8"></div>
<div style="left:397.5px;top:149.9px;width:120px;height:10px;line-height:10px;text-align:center;font-size:6.4px;color:#363636;-webkit-text-stroke:0.12px #363636;transform:scaleX(0.9435)">SDQ Prosocial behaviour</div>
<div style="left:367px;top:161.20000000000002px;width:14.6px;height:8px;line-height:8px;text-align:right;font-size:4.4px;color:#404040;-webkit-text-stroke:0.15px #404040">30.00</div>
<div style="left:367px;top:174.68333333333334px;width:14.6px;height:8px;line-height:8px;text-align:right;font-size:4.4px;color:#404040;-webkit-text-stroke:0.15px #404040">25.00</div>
<div style="left:367px;top:188.16666666666669px;width:14.6px;height:8px;line-height:8px;text-align:right;font-size:4.4px;color:#404040;-webkit-text-stroke:0.15px #404040">20.00</div>
<div style="left:367px;top:201.65000000000003px;width:14.6px;height:8px;line-height:8px;text-align:right;font-size:4.4px;color:#404040;-webkit-text-stroke:0.15px #404040">15.00</div>
<div style="left:367px;top:215.13333333333335px;width:14.6px;height:8px;line-height:8px;text-align:right;font-size:4.4px;color:#404040;-webkit-text-stroke:0.15px #404040">10.00</div>
<div style="left:367px;top:228.61666666666667px;width:14.6px;height:8px;line-height:8px;text-align:right;font-size:4.4px;color:#404040;-webkit-text-stroke:0.15px #404040">5.00</div>
<div style="left:367px;top:242.10000000000002px;width:14.6px;height:8px;line-height:8px;text-align:right;font-size:4.4px;color:#404040;-webkit-text-stroke:0.15px #404040">0.00</div>
<div style="left:385.7px;top:173.6px;width:30px;height:8px;line-height:8px;text-align:center;font-size:4.3px;color:#262626;-webkit-text-stroke:0.15px #262626">20.04</div>
<div style="left:390.7px;top:247.1px;width:20px;height:8px;line-height:8px;text-align:center;font-size:4.3px;color:#404040;-webkit-text-stroke:0.12px #404040">F</div>
<div style="left:417.3px;top:172.2px;width:30px;height:8px;line-height:8px;text-align:center;font-size:4.3px;color:#262626;-webkit-text-stroke:0.15px #262626">20.24</div>
<div style="left:422.3px;top:247.1px;width:20px;height:8px;line-height:8px;text-align:center;font-size:4.3px;color:#404040;-webkit-text-stroke:0.12px #404040">D</div>
<div style="left:448.9px;top:170.5px;width:30px;height:8px;line-height:8px;text-align:center;font-size:4.3px;color:#262626;-webkit-text-stroke:0.15px #262626">20.93</div>
<div style="left:453.9px;top:247.1px;width:20px;height:8px;line-height:8px;text-align:center;font-size:4.3px;color:#404040;-webkit-text-stroke:0.12px #404040">C</div>
<div style="left:480.5px;top:171.8px;width:30px;height:8px;line-height:8px;text-align:center;font-size:4.3px;color:#262626;-webkit-text-stroke:0.15px #262626">21.22</div>
<div style="left:485.5px;top:247.1px;width:20px;height:8px;line-height:8px;text-align:center;font-size:4.3px;color:#404040;-webkit-text-stroke:0.12px #404040">B</div>
<div style="left:512.1px;top:169.7px;width:30px;height:8px;line-height:8px;text-align:center;font-size:4.3px;color:#262626;-webkit-text-stroke:0.15px #262626">21.39</div>
<div style="left:517.1px;top:247.1px;width:20px;height:8px;line-height:8px;text-align:center;font-size:4.3px;color:#404040;-webkit-text-stroke:0.12px #404040">A</div>
<div style="left:366.5px;top:260.7px;width:181px;height:6.6px;line-height:6.6px;text-align:center;font-size:4.78px;color:#111111;font-weight:normal;-webkit-text-stroke:0.18px #111111;white-space:nowrap">F - B: Mean Diff.: -1.18±0.33; 95% CI: -2.10; -0.26; p=0.003</div>
<div style="left:366.5px;top:267.3px;width:181px;height:6.6px;line-height:6.6px;text-align:center;font-size:4.78px;color:#111111;font-weight:normal;-webkit-text-stroke:0.18px #111111;white-space:nowrap">F - A: Mean Diff.: -1.35±0.37; 95% CI: -2.39; -0.31; p=0.003</div>
<div style="left:366.5px;top:273.9px;width:181px;height:6.6px;line-height:6.6px;text-align:center;font-size:4.78px;color:#111111;font-weight:normal;-webkit-text-stroke:0.18px #111111;white-space:nowrap">D - B: Mean Diff.: -0.98±0.23; 95% CI: -1.63; -0.33; p<0.001</div>
<div style="left:366.5px;top:280.5px;width:181px;height:6.6px;line-height:6.6px;text-align:center;font-size:4.78px;color:#111111;font-weight:normal;-webkit-text-stroke:0.18px #111111;white-space:nowrap">D - A: Mean Diff.: -1.16±0.29; 95% CI: -1.97; -0.35; p<0.001</div>
<div style="left:2px;top:1px;width:547px;height:1px;background:#f4f4f4"></div>
<div style="left:1px;top:2px;width:1px;height:289px;background:#f2f2f2"></div>
<div style="left:546px;top:2px;width:1px;height:289px;background:#f2f2f2"></div>
<div style="left:184px;top:2px;width:1px;height:289px;background:#eeeeee"></div>
<div style="left:549px;top:2px;width:1px;height:289px;background:#eeeeee"></div>
<div style="left:2px;top:144px;width:547px;height:1px;background:#ececec"></div>
<div style="left:364px;top:2px;width:1px;height:289px;background:#e6e6e6"></div>
<div style="left:368px;top:2px;width:1px;height:289px;background:#e6e6e6"></div>
<div style="left:2px;top:288px;width:547px;height:1px;background:#e6e6e6"></div>
<div style="left:2px;top:148px;width:547px;height:1px;background:#e2e2e2"></div>
<div style="left:2px;top:3px;width:547px;height:1px;background:#dcdcdc"></div>
<div style="left:2px;top:146px;width:547px;height:1px;background:#d8d8d8"></div>
<div style="left:3px;top:2px;width:1px;height:289px;background:#d6d6d6"></div>
<div style="left:182px;top:2px;width:1px;height:289px;background:#d6d6d6"></div>
<div style="left:186px;top:2px;width:1px;height:289px;background:#d6d6d6"></div>
<div style="left:2px;top:290px;width:547px;height:1px;background:#cccccc"></div>
<div style="left:365px;top:2px;width:1px;height:289px;background:#b8b8b8"></div>
<div style="left:367px;top:2px;width:1px;height:289px;background:#b8b8b8"></div>
<div style="left:547px;top:2px;width:1px;height:289px;background:#b8b8b8"></div>
<div style="left:183px;top:2px;width:1px;height:289px;background:#b0b0b0"></div>
<div style="left:366px;top:2px;width:1px;height:289px;background:#b0b0b0"></div>
<div style="left:548px;top:2px;width:1px;height:289px;background:#b0b0b0"></div>
<div style="left:2px;top:147px;width:547px;height:1px;background:#b0b0b0"></div>
<div style="left:185px;top:2px;width:1px;height:289px;background:#a8a8a8"></div>
<div style="left:2px;top:2px;width:547px;height:1px;background:#a8a8a8"></div>
<div style="left:2px;top:145px;width:547px;height:1px;background:#a8a8a8"></div>
<div style="left:2px;top:289px;width:547px;height:1px;background:#a8a8a8"></div>
<div style="left:2px;top:2px;width:1px;height:289px;background:#a0a0a0"></div>
</body></html>
